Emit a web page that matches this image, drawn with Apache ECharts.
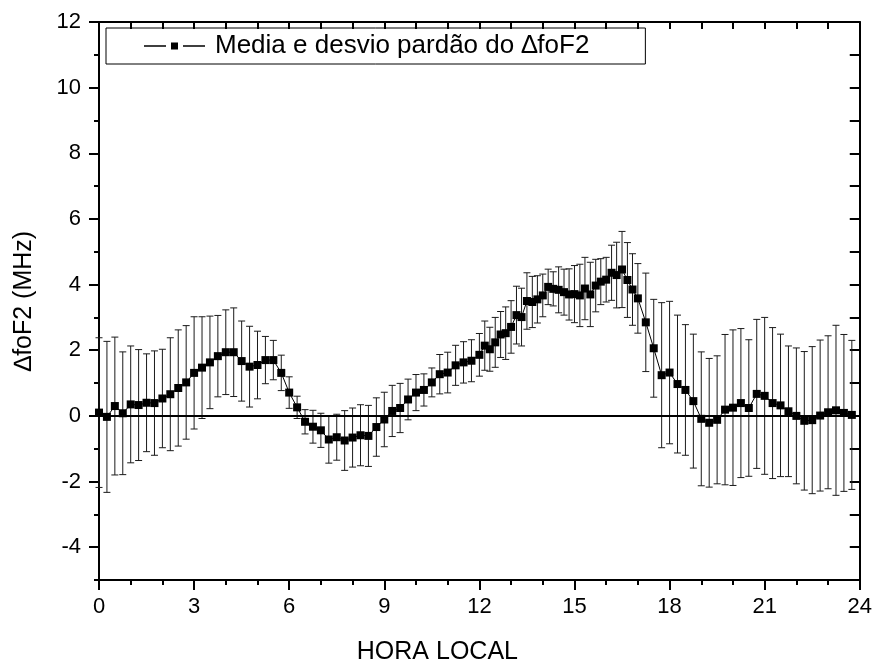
<!DOCTYPE html>
<html>
<head>
<meta charset="UTF-8">
<title>Media e desvio padrao do foF2</title>
<script src="https://cdn.jsdelivr.net/npm/echarts@6/dist/echarts.min.js"></script>
<style>
  html, body { margin: 0; padding: 0; background: #fff; }
</style>
</head>
<body>
<div id="main" style="width: 875px;height:670px;"></div>
<script type="text/javascript">
// hora local (0-12 a cada 15 min, 12-17 a cada 10 min, depois 15 min)
var hora = [
  0, 0.25, 0.5, 0.75, 1, 1.25, 1.5, 1.75, 2, 2.25, 2.5, 2.75,
  3, 3.25, 3.5, 3.75, 4, 4.25, 4.5, 4.75, 5, 5.25, 5.5, 5.75,
  6, 6.25, 6.5, 6.75, 7, 7.25, 7.5, 7.75, 8, 8.25, 8.5, 8.75,
  9, 9.25, 9.5, 9.75, 10, 10.25, 10.5, 10.75, 11, 11.25, 11.5, 11.75,
  12, 12.17, 12.33, 12.5, 12.67, 12.83, 13, 13.17, 13.33, 13.5, 13.67, 13.83,
  14, 14.17, 14.33, 14.5, 14.67, 14.83, 15, 15.17, 15.33, 15.5, 15.67, 15.83,
  16, 16.17, 16.33, 16.5, 16.67, 16.83, 17,
  17.25, 17.5, 17.75, 18, 18.25, 18.5, 18.75, 19, 19.25, 19.5, 19.75,
  20, 20.25, 20.5, 20.75, 21, 21.25, 21.5, 21.75, 22, 22.25, 22.5, 22.75,
  23, 23.25, 23.5, 23.75
];

// media do delta foF2 (MHz)
var media = [
  0.1, -0.03, 0.3, 0.08, 0.35, 0.33, 0.4, 0.39, 0.53, 0.66, 0.85, 1.02,
  1.31, 1.47, 1.63, 1.82, 1.94, 1.94, 1.67, 1.5, 1.55, 1.7, 1.7, 1.31,
  0.71, 0.26, -0.18, -0.33, -0.44, -0.72, -0.65, -0.75, -0.66, -0.59, -0.61, -0.34,
  -0.11, 0.15, 0.24, 0.5, 0.71, 0.79, 1.02, 1.27, 1.32, 1.54, 1.63, 1.68,
  1.86, 2.14, 2.03, 2.24, 2.48, 2.52, 2.71, 3.07, 3.01, 3.5, 3.47, 3.55,
  3.67, 3.93, 3.87, 3.84, 3.77, 3.7, 3.71, 3.67, 3.88, 3.7, 3.97, 4.09,
  4.15, 4.36, 4.29, 4.46, 4.14, 3.85, 3.58,
  2.85, 2.06, 1.24, 1.32, 0.97, 0.79, 0.45, -0.09, -0.21, -0.12, 0.19,
  0.25, 0.39, 0.24, 0.67, 0.61, 0.39, 0.32, 0.14, 0.0, -0.15, -0.13, 0.01,
  0.11, 0.17, 0.09, 0.03
];

// desvio padrao (MHz)
var desvio = [
  2.28, 2.3, 2.1, 1.87, 1.78, 1.69, 1.49, 1.59, 1.5, 1.72, 1.77, 1.73,
  1.71, 1.55, 1.41, 1.24, 1.29, 1.35, 1.22, 1.23, 1.03, 0.72, 0.6, 0.54,
  0.48, 0.34, 0.37, 0.5, 0.52, 0.72, 0.7, 0.91, 0.9, 0.93, 0.93, 0.89,
  0.83, 0.78, 0.75, 0.62, 0.55, 0.49, 0.44, 0.6, 0.62, 0.61, 0.63, 0.64,
  0.65, 0.75, 0.67, 0.76, 0.7, 0.8, 0.8, 0.88, 0.88, 0.86, 0.78, 0.72,
  0.65, 0.54, 0.52, 0.7, 0.7, 0.78, 0.87, 0.95, 0.95, 0.98, 0.8, 0.7,
  0.68, 0.84, 1.0, 1.16, 1.14, 1.09, 1.06,
  1.5, 1.49, 2.21, 2.17, 2.1, 1.99, 2.04, 2.04, 1.96, 1.95, 2.29,
  2.37, 2.27, 2.08, 2.27, 2.39, 2.3, 2.17, 1.99, 2.07, 2.11, 2.24, 2.3,
  2.33, 2.59, 2.39, 2.27
];

var yMajor = [-4, -2, 0, 2, 4, 6, 8, 10, 12];
var yMinor = [-5, -3, -1, 1, 3, 5, 7, 9, 11];

var fonte = 'Liberation Sans, Arial, sans-serif';
var nomeSerie = 'Media e desvio pardão do \u2206foF2';

var pontos = hora.map(function (h, i) { return [h, media[i]]; });
var barras = hora.map(function (h, i) { return [h, media[i] - desvio[i], media[i] + desvio[i]]; });

var myChart = echarts.init(document.getElementById('main'));

function eixoY(extra) {
  var base = {
    type: 'value', min: -5, max: 12, interval: 1,
    splitLine: { show: false },
    axisLine: { show: true, onZero: false, lineStyle: { color: '#000', width: 2 } },
    axisTick: { show: false },
    axisLabel: { show: false }
  };
  return Object.assign(base, extra);
}

var option = {
  animation: false,
  backgroundColor: '#fff',
  grid: { left: 99, right: 15, top: 22, bottom: 88, containLabel: false },
  legend: {
    left: 106, top: 28,
    padding: [5, 56, 5, 38],
    borderColor: '#000', borderWidth: 1,
    itemWidth: 61, itemHeight: 7,
    // traco - quadrado - traco, como no Origin
    icon: 'path://M0,2.8H22V4.2H0Z M27,0H34V7H27Z M39,2.8H61V4.2H39Z',
    textStyle: { fontFamily: fonte, fontSize: 26, color: '#000', padding: [0, 0, 0, 5] },
    data: [nomeSerie]
  },
  xAxis: [{
    type: 'value', min: 0, max: 24, interval: 3, position: 'bottom',
    name: 'HORA LOCAL', nameLocation: 'middle', nameGap: 60,
    nameTextStyle: { fontFamily: fonte, fontSize: 25, color: '#000', padding: [0, 84, 0, 0] },
    splitLine: { show: false },
    axisLine: { onZero: false, lineStyle: { color: '#000', width: 2 } },
    axisTick: { length: 10, lineStyle: { color: '#000', width: 2 } },
    minorTick: { show: true, splitNumber: 3, length: 5, lineStyle: { color: '#000', width: 2 } },
    axisLabel: { margin: 16, fontFamily: fonte, fontSize: 22, color: '#000' }
  }, {
    type: 'value', min: 0, max: 24, interval: 3, position: 'top',
    splitLine: { show: false },
    axisLine: { onZero: false, lineStyle: { color: '#000', width: 2 } },
    axisTick: { inside: true, length: 7, lineStyle: { color: '#000', width: 2 } },
    minorTick: { show: true, splitNumber: 3, length: 7, lineStyle: { color: '#000', width: 2 } },
    axisLabel: { show: false }
  }],
  yAxis: [
    eixoY({
      position: 'left',
      name: '\u2206foF2 (MHz)', nameLocation: 'middle', nameGap: 62,
      nameTextStyle: { fontFamily: fonte, fontSize: 25, color: '#000' },
      axisTick: { show: true, length: 10, customValues: yMajor, lineStyle: { color: '#000', width: 2 } },
      axisLabel: { show: true, margin: 18, customValues: yMajor, fontFamily: fonte, fontSize: 22, color: '#000' }
    }),
    eixoY({
      position: 'left',
      axisLine: { show: false },
      axisTick: { show: true, length: 5, customValues: yMinor, lineStyle: { color: '#000', width: 2 } }
    }),
    eixoY({
      position: 'right',
      axisTick: { show: true, inside: true, length: 10, lineStyle: { color: '#000', width: 2 } }
    })
  ],
  series: [{
    name: 'desvio',
    type: 'custom',
    xAxisIndex: 0, yAxisIndex: 0,
    data: barras,
    z: 2,
    renderItem: function (params, api) {
      var x = api.value(0);
      var pBaixo = api.coord([x, api.value(1)]);
      var pAlto = api.coord([x, api.value(2)]);
      var c = 3.5;
      var estilo = { stroke: '#1a1a1a', lineWidth: 1 };
      return {
        type: 'group',
        children: [
          { type: 'line', shape: { x1: pAlto[0], y1: pAlto[1], x2: pBaixo[0], y2: pBaixo[1] }, style: estilo },
          { type: 'line', shape: { x1: pAlto[0] - c, y1: pAlto[1], x2: pAlto[0] + c, y2: pAlto[1] }, style: estilo },
          { type: 'line', shape: { x1: pBaixo[0] - c, y1: pBaixo[1], x2: pBaixo[0] + c, y2: pBaixo[1] }, style: estilo }
        ]
      };
    }
  }, {
    name: nomeSerie,
    type: 'line',
    xAxisIndex: 0, yAxisIndex: 0,
    data: pontos,
    z: 3,
    symbol: 'rect',
    symbolSize: 8,
    itemStyle: { color: '#000' },
    lineStyle: { color: '#000', width: 1 },
    markLine: {
      silent: true,
      symbol: 'none',
      label: { show: false },
      lineStyle: { color: '#000', width: 2, type: 'solid' },
      data: [{ yAxis: 0 }]
    }
  }]
};

myChart.setOption(option);
</script>
</body>
</html>
